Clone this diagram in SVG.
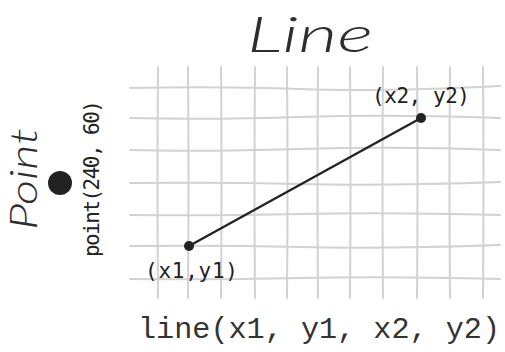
<svg xmlns="http://www.w3.org/2000/svg" width="505" height="352" viewBox="0 0 505 352">
<style>
.grid{stroke:#d2d2d2;stroke-width:2;fill:none;stroke-linecap:round}
.hand{font-family:"Lato","Roboto",sans-serif;font-weight:300;fill:#2e2e2e}
.mono{font-family:"Liberation Mono","DejaVu Sans Mono",monospace;fill:#333}
.lbl{font-family:"DejaVu Sans Mono","Liberation Mono",monospace;fill:#222;font-size:21px}
</style>
<rect width="505" height="352" fill="#fff"/>
<g id="title"><text class="hand" x="247" y="52" font-size="50" font-style="italic" textLength="126" lengthAdjust="spacingAndGlyphs">Line</text></g>
<g id="grid">
<path class="grid" d="M130 88 Q220 86 300 89 T500 86"/>
<path class="grid" d="M130 118 Q210 120 300 117 T500 118"/>
<path class="grid" d="M130 150 Q200 152 300 149 T500 150"/>
<path class="grid" d="M130 183 Q220 182 300 184 T500 182"/>
<path class="grid" d="M130 215 Q210 216 300 214 T500 215"/>
<path class="grid" d="M130 246 Q220 245 300 247 T500 245"/>
<path class="grid" d="M130 279 Q210 280 300 278 T500 279"/>
<path class="grid" d="M158 67 Q157 180 158 298"/>
<path class="grid" d="M188 67 Q189 180 188 298"/>
<path class="grid" d="M221 67 Q222 180 221 298"/>
<path class="grid" d="M255 67 Q254 180 255 298"/>
<path class="grid" d="M287 67 Q288 180 287 298"/>
<path class="grid" d="M318 67 Q317 180 318 298"/>
<path class="grid" d="M350 67 Q351 180 350 298"/>
<path class="grid" d="M383 67 Q382 180 383 298"/>
<path class="grid" d="M417 67 Q418 180 417 298"/>
<path class="grid" d="M450 67 Q449 180 450 298"/>
<path class="grid" d="M483 67 Q484 180 483 298"/>
</g>
<g id="connectors">
<line x1="189" y1="246" x2="421" y2="118" stroke="#222" stroke-width="2.2"/>
</g>
<g id="p1"><circle cx="189" cy="246" r="5" fill="#222"/><text class="lbl" x="145" y="278" textLength="93">(x1,y1)</text></g>
<g id="p2"><circle cx="421" cy="118" r="5" fill="#222"/><text class="lbl" x="372" y="103" font-size="20" textLength="98">(x2, y2)</text></g>
<g id="point">
<text class="hand" transform="translate(37,230) rotate(-90)" font-size="38" font-style="italic" textLength="102" lengthAdjust="spacingAndGlyphs">Point</text>
<circle cx="60" cy="183" r="12" fill="#222"/>
<text class="lbl" transform="translate(99,257) rotate(-90)" font-size="18" textLength="157">point(240, 60)</text>
</g>
<g id="caption"><text class="mono" x="138" y="338" font-size="30" textLength="362" lengthAdjust="spacingAndGlyphs">line(x1, y1, x2, y2)</text></g>
</svg>
